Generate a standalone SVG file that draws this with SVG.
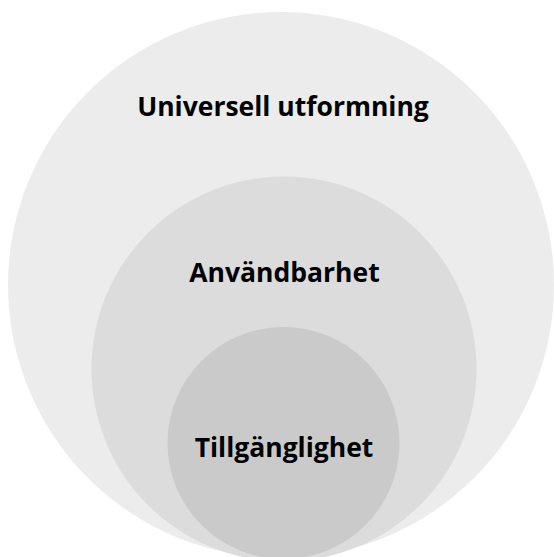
<svg xmlns="http://www.w3.org/2000/svg" width="554" height="557" viewBox="0 0 554 557">
<style>
text{font-family:"Open Sans","Noto Sans","DejaVu Sans",sans-serif;font-weight:bold;font-size:26.5px;fill:#000;text-anchor:middle}
</style>
<rect width="554" height="557" fill="#fff"/>
<g id="universell">
<circle cx="281" cy="285" r="273" fill="#ececec"/>
<text x="283" y="116">Universell utformning</text>
</g>
<g id="anvandbarhet">
<circle cx="284" cy="369" r="192.5" fill="#dcdcdc"/>
<text x="284.5" y="282">Användbarhet</text>
</g>
<g id="tillganglighet">
<circle cx="283.5" cy="443" r="116" fill="#cacaca"/>
<text x="284" y="457">Tillgänglighet</text>
</g>
<g id="connectors"/>
</svg>
